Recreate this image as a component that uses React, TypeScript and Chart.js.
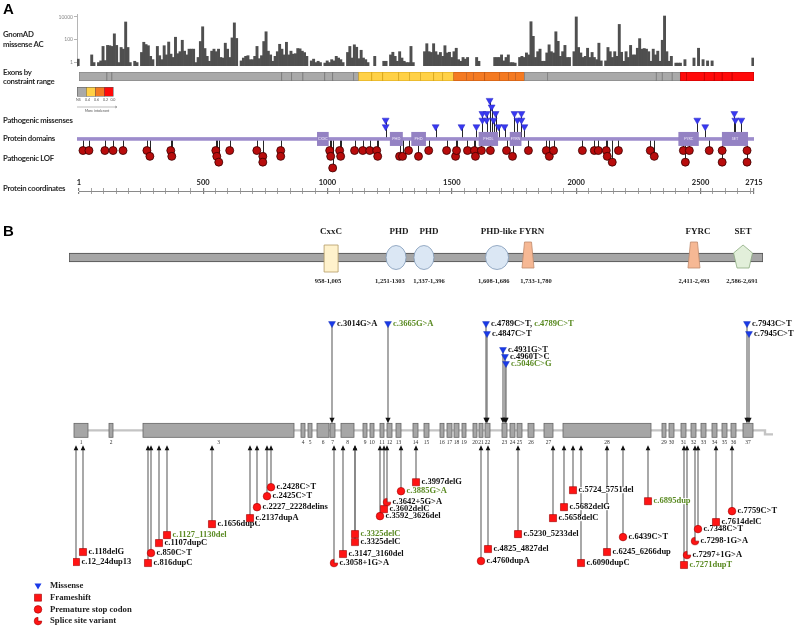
import React, { useEffect, useRef } from "react";
import { Chart, registerables } from "chart.js";

Chart.register(...registerables);
Chart.defaults.font.family = "Lato, 'Liberation Sans', sans-serif";

const SERIF = '"Liberation Serif", "Times New Roman", serif';

// ================= PANEL A =================
// gnomAD missense allele count per ~9 aa bin (0 = no variant)
const GNOMAD_AC: number[] = [
  2, 0, 0, 0, 0, 0, 4.7, 1, 0, 1,
  1.4, 26, 1.5, 32, 30, 26, 330, 32, 1, 21,
  15, 3600, 21, 1, 0, 1.3, 1, 0, 7.7, 60,
  38, 30, 3.5, 1.8, 0, 26, 4, 1.8, 30, 4.7,
  63, 5.5, 2.8, 166, 6, 9, 90, 10, 4.7, 15,
  15, 15, 1, 2.8, 70, 1370, 17, 3.5, 1.3, 10,
  15, 9, 15, 2.8, 2.5, 50, 15, 2.8, 145, 3000,
  130, 0, 1.4, 2.5, 3.5, 4, 1.8, 1.8, 3.5, 26,
  2.2, 4, 70, 500, 10, 4.7, 1.3, 3.5, 9, 40,
  15, 4.7, 60, 4.7, 10, 5.5, 6, 17,
  16, 10, 7.5, 3.5, 0, 1.4, 2, 1, 1.3, 1,
  0, 0.9, 1.4, 1, 1.8, 1.4, 3.5, 2.5, 1.8, 1,
  0, 7.7, 26, 2.5, 36, 22, 2.2, 12, 2.5, 1.8,
  1, 0, 0, 3.5, 0, 0, 0, 1.3, 1.3, 0,
  4.7, 8, 3.5, 1.3, 9, 2.5, 1.3, 1, 1, 26,
  1, 0, 0, 0, 0, 9, 45, 9, 7.7, 45,
  9, 4.7, 7.7, 3.5, 30, 7, 8, 2.8, 9, 18,
  1.8, 1.3, 2.8, 2, 2.8, 0, 0, 0, 2.8, 1.3,
  0, 0, 0, 0, 0, 0, 2.8, 2.8, 2.8, 4.7,
  1.4, 2.8, 4.7, 1, 1, 0.9, 0, 2.8, 3.5, 2.8,
  7, 4.7, 3800, 200,
  2.8, 9, 15, 1.3, 1.3, 7, 36, 9, 7, 500,
  73, 3.5, 9, 32, 2.8, 2.8, 0, 9, 10000, 21,
  7, 2.8, 3.5, 18, 2.8, 7.7, 2.8, 1.8, 50, 1.4,
  0, 1.4, 21, 9, 2.8, 9, 3.5, 2200, 8, 1.3,
  9, 2.8, 32, 4.7, 4.7, 18, 125, 15, 17, 15,
  9, 1.3, 15, 4.7, 10, 1.3, 90, 12000, 9, 1.3,
  3.5, 0, 0.9, 0.9, 0.9, 0, 1.8, 0, 0, 0,
  2.5, 0, 18, 0, 1.8, 0, 1.4, 0, 1.4, 0,
  0, 0, 0, 0, 0, 0, 0, 0, 0, 0,
  0, 0, 0, 0, 0, 0, 2.5,
];
const AC_TICKS = [1, 100, 10000];

// exon boundaries (aa) and constraint class changes
const EXON_BOUNDS_AA = [1, 113, 133, 816, 856, 901, 989, 1021, 1105, 1125, 1178, 1222, 1286, 1330, 1374, 1427, 1463, 1507, 1559, 1587, 1632, 1692, 1728, 1756, 1792, 1885, 2322, 2346, 2386, 2419, 2443, 2515, 2555, 2587, 2627, 2715];
const CONSTRAINT_CUTS = [1, 1125, 1507, 1792, 2419];
const CONSTRAINT_CUT_CLASS = [0, 1, 2, 0, 3];
const CONSTRAINT_FILL = ["#a9a9a9", "#ffd147", "#f47a22", "#ff0a0a"];
const CONSTRAINT_EDGE = ["#7a7a7a", "#d9a618", "#c4560f", "#c00000"];
const CONSTRAINT_LEGEND_LABELS = ["NS", "0.4", "0.6", "0.2", "0.0"];

// pathogenic missense (aa position, stack level)
const MIS_A_POS = [1234, 1234, 1435, 1539, 1599, 1623, 1623, 1640, 1640, 1652, 1660, 1668, 1676, 1688, 1712, 1752, 1764, 1780, 1780, 1792, 2487, 2519, 2636, 2640, 2664];
const MIS_A_LEVEL = [1, 2, 1, 1, 1, 2, 3, 2, 3, 5, 4, 2, 3, 1, 1, 3, 2, 2, 3, 1, 2, 1, 3, 2, 2];

// pathogenic LOF (aa position, stack level)
const LOF_A_POS = [17, 41, 105, 138, 178, 274, 286, 370, 374, 551, 555, 563, 607, 716, 740, 740, 812, 812, 1009, 1013, 1021, 1049, 1053, 1109, 1142, 1170, 1198, 1202, 1290, 1302, 1326, 1366, 1407, 1479, 1515, 1519, 1563, 1591, 1595, 1619, 1655, 1720, 1744, 1808, 1880, 1892, 1909, 2025, 2073, 2089, 2121, 2125, 2145, 2170, 2298, 2314, 2431, 2439, 2455, 2535, 2587, 2587, 2687, 2687];
const LOF_A_LEVEL = [1, 1, 1, 1, 1, 1, 2, 1, 2, 1, 2, 3, 1, 1, 2, 3, 1, 2, 1, 2, 4, 1, 2, 1, 1, 1, 1, 2, 2, 2, 1, 2, 1, 1, 2, 1, 1, 1, 2, 1, 1, 1, 2, 1, 1, 2, 1, 1, 1, 1, 1, 2, 3, 1, 1, 2, 1, 3, 1, 1, 1, 3, 1, 3];

// protein domains
const DOMAIN_NAMES_A = ["CXXC", "PHD", "PHD", "PHDL", "FYRN", "FYRC", "SET"];
const DOMAIN_START = [958, 1251, 1337, 1608, 1733, 2411, 2586];
const DOMAIN_END = [1005, 1303, 1396, 1686, 1780, 2493, 2691];
const PROTEIN_LENGTH = 2715;
const COORD_LABELS = [1, 500, 1000, 1500, 2000, 2500, 2715];
const COORD_MINOR_STEP = 50;

// ================= PANEL B =================
const DOMAIN_NAMES_B = ["CxxC", "PHD", "PHD", "PHD-like", "FYRN", "FYRC", "SET"];
const DOMAIN_RANGE_LABELS = ["958-1,005", "1,251-1303", "1,337-1,396", "1,608-1,686", "1,733-1,780", "2,411-2,493", "2,586-2,691"];
const DOMAIN_SHAPE = ["rect", "ellipse", "ellipse", "ellipse", "trap", "trap", "pentagon"];
// schematic positions (aa scale of the drawn bar) for shapes, names and range captions
const DOMAIN_SCHEMATIC_POS = [1026, 1280, 1389, 1675, 1796, 2445, 2637];
const DOMAIN_NAME_POS = [1026, 1292, 1409, 1682, 1811, 2461, 2637];
const DOMAIN_RANGE_POS = [1014, 1256, 1409, 1662, 1827, 2445, 2633];

// exon layout (schematic units)
const EXON_START = [1, 36, 70, 228, 235, 244, 257, 268, 290, 297, 307, 314, 323, 340, 351, 367, 374, 381, 389, 400, 406, 412, 429, 437, 444, 455, 471, 490, 589, 596, 608, 618, 628, 639, 649, 658, 670];
const EXON_END = [15, 40, 221, 232, 239, 256, 262, 281, 294, 301, 311, 319, 328, 345, 356, 371, 379, 386, 393, 404, 410, 417, 434, 442, 449, 461, 480, 578, 593, 601, 613, 623, 633, 644, 654, 663, 680];
const TRANSCRIPT_END = 700;

// missense variants (schematic x, label row)
const MIS_B_LABEL = ["c.3014G>A", "c.3665G>A", "c.4789C>T, ", "c.4847C>T", "c.4931G>T", "c.4960T>C", "c.5046C>G", "c.7943C>T", "c.7945C>T"];
const MIS_B_LABEL_EXTRA = ["", "", "c.4789C>T", "", "", "", "", "", ""];
const MIS_B_GREEN = [false, true, false, false, false, false, true, false, false];
const MIS_B_X = [259, 315, 413, 414, 430, 432, 433, 674, 676];
const MIS_B_ROW = [10.7, 10.7, 10.7, 9.7, 8.1, 7.4, 6.7, 10.7, 9.7];

// LOF variants: F frameshift, S premature stop, P splice site
const LOF_B_LABEL = ["c.12_24dup13", "c.118delG", "c.816dupC", "c.850C>T", "c.1107dupC", "c.1127_1130del", "c.1656dupC", "c.2137dupA", "c.2227_2228delins", "c.2425C>T", "c.2428C>T", "c.3058+1G>A", "c.3147_3160del", "c.3325delC", "c.3325delC", "c.3592_3626del", "c.3602delC", "c.3642+5G>A", "c.3885G>A", "c.3997delG", "c.4760dupA", "c.4825_4827del", "c.5230_5233del", "c.5658delC", "c.5682delG", "c.5724_5751del", "c.6090dupC", "c.6245_6266dup", "c.6439C>T", "c.6895dup", "c.7271dupT", "c.7297+1G>A", "c.7298-1G>A", "c.7348C>T", "c.7614delC", "c.7759C>T"];
const LOF_B_X = [3, 10, 75, 78, 86, 94, 139, 177, 184, 194, 198, 261, 270, 282, 282, 307, 311, 314, 328, 343, 408, 415, 445, 480, 491, 500, 508, 534, 550, 575, 611, 614, 622, 625, 643, 659];
const LOF_B_ROW = [-13.2, -12.2, -13.3, -12.3, -11.3, -10.5, -9.4, -8.8, -7.7, -6.6, -5.7, -13.3, -12.4, -11.2, -10.4, -8.6, -7.9, -7.2, -6.1, -5.2, -13.1, -11.9, -10.4, -8.8, -7.7, -6.0, -13.3, -12.2, -10.7, -7.1, -13.5, -12.5, -11.1, -9.9, -9.2, -8.1];
const LOF_B_TYPE = ["F", "F", "F", "S", "F", "F", "F", "F", "S", "S", "S", "P", "F", "F", "F", "S", "F", "P", "S", "F", "S", "F", "F", "F", "F", "F", "F", "F", "S", "F", "F", "P", "P", "S", "F", "S"];
const LOF_B_GREEN = [false, false, false, false, false, true, false, false, false, false, false, false, false, false, true, false, false, false, true, false, false, false, false, false, false, false, false, false, false, true, true, false, false, false, false, false];

const LEGEND_B = ["Missense", "Frameshift", "Premature stop codon", "Splice site variant"];
const LEGEND_B_TYPE = ["M", "F", "S", "P"];

const GREEN = "#5a8a22";
const BLUE = "#1a3ae8";
const RED = "#ff1414";
const PURPLE_LINE = "#9d8ccc";
const PURPLE_BOX = "#9482c3";

function makeSplice(r: number): HTMLCanvasElement {
  const c = document.createElement("canvas");
  const s = Math.ceil(r * 2 + 2);
  c.width = s;
  c.height = s;
  const g = c.getContext("2d")!;
  g.fillStyle = RED;
  g.strokeStyle = "#a00000";
  g.lineWidth = 0.6;
  g.beginPath();
  g.moveTo(s / 2, s / 2);
  g.arc(s / 2, s / 2, r, 0, Math.PI * 1.5);
  g.closePath();
  g.fill();
  g.stroke();
  return c;
}

function drawMarker(ctx: CanvasRenderingContext2D, type: string, x: number, y: number) {
  ctx.save();
  ctx.lineWidth = 0.6;
  ctx.beginPath();
  if (type === "M") {
    ctx.fillStyle = BLUE;
    ctx.moveTo(x - 3.5, y - 2.5);
    ctx.lineTo(x + 3.5, y - 2.5);
    ctx.lineTo(x, y + 3.5);
    ctx.closePath();
    ctx.fill();
  } else if (type === "F") {
    ctx.fillStyle = RED;
    ctx.strokeStyle = "#a00000";
    ctx.rect(x - 3.5, y - 3.5, 7, 7);
    ctx.fill();
    ctx.stroke();
  } else if (type === "S") {
    ctx.fillStyle = RED;
    ctx.strokeStyle = "#a00000";
    ctx.arc(x, y, 3.8, 0, Math.PI * 2);
    ctx.fill();
    ctx.stroke();
  } else {
    ctx.fillStyle = RED;
    ctx.strokeStyle = "#a00000";
    ctx.moveTo(x, y);
    ctx.arc(x, y, 3.8, 0, Math.PI * 1.5);
    ctx.closePath();
    ctx.fill();
    ctx.stroke();
  }
  ctx.restore();
}

const baseOpts = {
  responsive: false,
  maintainAspectRatio: false,
  animation: false as const,
  events: [] as any[],
  plugins: { legend: { display: false }, tooltip: { enabled: false } },
};

export default function App() {
  const refBars = useRef<HTMLCanvasElement>(null);
  const refCons = useRef<HTMLCanvasElement>(null);
  const refTrack = useRef<HTMLCanvasElement>(null);
  const refAxis = useRef<HTMLCanvasElement>(null);
  const refDom = useRef<HTMLCanvasElement>(null);
  const refGene = useRef<HTMLCanvasElement>(null);

  useEffect(() => {
    const charts: Chart[] = [];

    // ---- gnomAD bars ----
    charts.push(
      new Chart(refBars.current!, {
        type: "bar",
        data: {
          labels: GNOMAD_AC.map((_, i) => String(i)),
          datasets: [
            {
              data: GNOMAD_AC.map((v) => (v > 0 ? v : null)) as any,
              backgroundColor: "#4f4f4f",
              barPercentage: 1,
              categoryPercentage: 1,
              borderWidth: 0,
            },
          ],
        },
        options: {
          ...baseOpts,
          layout: { padding: { left: 55, right: 46, top: 14, bottom: 4 } },
          scales: {
            x: { display: false },
            y: {
              type: "logarithmic",
              min: 0.5,
              max: 18000,
              afterBuildTicks: (s: any) => {
                s.ticks = AC_TICKS.map((v) => ({ value: v }));
              },
              afterFit: (s: any) => {
                s.width = 22;
              },
              grid: { drawOnChartArea: false, tickLength: 3, color: "#b5b5b5" },
              border: { color: "#b5b5b5" },
              ticks: { font: { size: 5 }, color: "#888", padding: 1, callback: (v: any) => String(v) },
            },
          },
        } as any,
      })
    );

    // ---- exon constraint bar ----
    const segs = EXON_BOUNDS_AA.slice(0, -1).map((s, i) => {
      let k = 0;
      CONSTRAINT_CUTS.forEach((c, j) => {
        if (s >= c) k = j;
      });
      return { start: s, end: EXON_BOUNDS_AA[i + 1], cls: CONSTRAINT_CUT_CLASS[k] };
    });
    charts.push(
      new Chart(refCons.current!, {
        type: "bar",
        data: {
          labels: ["c"],
          datasets: [
            {
              data: segs.map((s) => ({ y: "c", x: [s.start, s.end] })) as any,
              backgroundColor: segs.map((s) => CONSTRAINT_FILL[s.cls]),
              borderColor: segs.map((s) => CONSTRAINT_EDGE[s.cls]),
              borderWidth: 0.8,
              borderSkipped: false,
              barPercentage: 1,
              categoryPercentage: 1,
            },
          ],
        },
        options: {
          ...baseOpts,
          indexAxis: "y",
          layout: { padding: { left: 79, right: 46, top: 4, bottom: 35 } },
          scales: {
            x: { type: "linear", min: 1, max: PROTEIN_LENGTH, display: false },
            y: { display: false },
          },
        } as any,
        plugins: [
          {
            id: "consLegend",
            afterDraw(chart: any) {
              const { ctx, chartArea } = chart;
              const x0 = chartArea.left - 2;
              const top = chartArea.bottom + 6;
              ctx.save();
              CONSTRAINT_FILL.forEach((c, i) => {
                ctx.fillStyle = c;
                ctx.fillRect(x0 + i * 9, top, 9, 9);
                ctx.strokeStyle = "#555";
                ctx.lineWidth = 0.5;
                ctx.strokeRect(x0 + i * 9 + 0.25, top + 0.25, 9, 9);
              });
              ctx.fillStyle = "#555";
              ctx.font = "3.6px Lato";
              ctx.textBaseline = "middle";
              ctx.textAlign = "left";
              CONSTRAINT_LEGEND_LABELS.forEach((t, i) => {
                ctx.fillText(t, x0 - 1 + i * (i === 4 ? 8.6 : 9), top + 13);
              });
              ctx.strokeStyle = "#777";
              ctx.lineWidth = 0.5;
              ctx.beginPath();
              ctx.moveTo(x0, top + 20);
              ctx.lineTo(x0 + 40, top + 20);
              ctx.lineTo(x0 + 38, top + 19);
              ctx.moveTo(x0 + 40, top + 20);
              ctx.lineTo(x0 + 38, top + 21);
              ctx.stroke();
              ctx.textAlign = "center";
              ctx.fillText("More intolerant", x0 + 20, top + 23.5);
              ctx.restore();
            },
          },
        ],
      })
    );

    // ---- lollipop tracks ----
    charts.push(
      new Chart(refTrack.current!, {
        type: "scatter",
        data: {
          datasets: [
            {
              data: MIS_A_POS.map((p, i) => ({ x: p, y: MIS_A_LEVEL[i] + 0.85 })),
              pointStyle: "triangle",
              rotation: 180,
              radius: 4,
              backgroundColor: "#3838f2",
              borderColor: "#2828c0",
              borderWidth: 0.5,
              clip: false,
            },
            {
              data: LOF_A_POS.map((p, i) => ({ x: p, y: -0.88 * (LOF_A_LEVEL[i] + 1) })),
              pointStyle: "circle",
              radius: 4,
              backgroundColor: "#b80c0c",
              borderColor: "#3a0000",
              borderWidth: 0.8,
              clip: false,
            },
          ],
        },
        options: {
          ...baseOpts,
          layout: { padding: { left: 79, right: 46, top: 2.4, bottom: 4.6 } },
          scales: {
            x: { type: "linear", min: 1, max: PROTEIN_LENGTH, display: false },
            y: { type: "linear", min: -5.5, max: 7, display: false },
          },
        } as any,
        plugins: [
          {
            id: "tracks",
            beforeDatasetsDraw(chart: any) {
              const { ctx, scales } = chart;
              const x = scales.x;
              const y = scales.y;
              const y0 = y.getPixelForValue(0);
              ctx.save();
              ctx.strokeStyle = "#262626";
              ctx.lineWidth = 1;
              chart.data.datasets.forEach((ds: any) =>
                ds.data.forEach((pt: any) => {
                  const px = Math.round(x.getPixelForValue(pt.x)) + 0.5;
                  ctx.beginPath();
                  ctx.moveTo(px, y0);
                  ctx.lineTo(px, y.getPixelForValue(pt.y));
                  ctx.stroke();
                })
              );
              const xa = x.getPixelForValue(1);
              const xb = x.getPixelForValue(PROTEIN_LENGTH);
              ctx.fillStyle = PURPLE_LINE;
              ctx.fillRect(xa - 2, y0 - 1.8, xb - xa + 2, 3.6);
              ctx.font = "3.8px Lato";
              ctx.textAlign = "center";
              ctx.textBaseline = "middle";
              DOMAIN_START.forEach((s, i) => {
                const x1 = x.getPixelForValue(s);
                const x2 = x.getPixelForValue(DOMAIN_END[i]);
                ctx.fillStyle = PURPLE_BOX;
                ctx.fillRect(x1, y0 - 7, x2 - x1, 14);
                ctx.fillStyle = "#ece6f7";
                ctx.fillText(DOMAIN_NAMES_A[i], (x1 + x2) / 2, y0);
              });
              ctx.restore();
            },
          },
        ],
      })
    );

    // ---- protein coordinate axis ----
    const coordTicks: number[] = [1];
    for (let v = COORD_MINOR_STEP; v < PROTEIN_LENGTH; v += COORD_MINOR_STEP) coordTicks.push(v);
    coordTicks.push(PROTEIN_LENGTH);
    charts.push(
      new Chart(refAxis.current!, {
        type: "scatter",
        data: { datasets: [{ data: [] }] },
        options: {
          ...baseOpts,
          layout: { padding: { left: 79, right: 46, top: 0, bottom: 6 } },
          scales: {
            x: {
              type: "linear",
              position: "top",
              min: 1,
              max: PROTEIN_LENGTH,
              afterBuildTicks: (s: any) => {
                s.ticks = coordTicks.map((v) => ({ value: v }));
              },
              afterFit: (s: any) => {
                s.height = 21;
              },
              ticks: {
                autoSkip: false,
                maxRotation: 0,
                padding: 1,
                color: "#222",
                font: { size: 7.5, weight: "bold" },
                callback: (v: any) => (COORD_LABELS.includes(v) ? String(v) : ""),
              },
              grid: {
                color: "#7d7d7d",
                lineWidth: (c: any) => (COORD_LABELS.includes(c.tick && c.tick.value) ? 1.2 : 0.7),
                tickLength: 3,
                drawOnChartArea: true,
              },
              border: { display: true, color: "#8a8a8a", width: 1 },
            },
            y: { display: false, min: 0, max: 1 },
          },
        } as any,
      })
    );

    // ---- panel B protein schematic ----
    charts.push(
      new Chart(refDom.current!, {
        type: "bar",
        data: {
          labels: ["p"],
          datasets: [
            {
              data: [{ y: "p", x: [1, PROTEIN_LENGTH] }] as any,
              backgroundColor: "#a6a6a6",
              borderColor: "#4d4d4d",
              borderWidth: 1,
              borderSkipped: false,
              barThickness: 9,
            },
          ],
        },
        options: {
          ...baseOpts,
          indexAxis: "y",
          layout: { padding: { left: 69, right: 37, top: 5, bottom: 4 } },
          scales: {
            x: { type: "linear", min: 1, max: PROTEIN_LENGTH, display: false },
            y: { display: false },
          },
        } as any,
        plugins: [
          {
            id: "domains",
            afterDatasetsDraw(chart: any) {
              const { ctx, chartArea, scales } = chart;
              const x = scales.x;
              const cy = (chartArea.top + chartArea.bottom) / 2;
              ctx.save();
              DOMAIN_SCHEMATIC_POS.forEach((p, i) => {
                const cx = x.getPixelForValue(p);
                const kind = DOMAIN_SHAPE[i];
                ctx.lineWidth = 0.8;
                ctx.beginPath();
                if (kind === "rect") {
                  ctx.rect(cx - 7, cy - 12.5, 14, 27);
                  ctx.fillStyle = "#fff2cc";
                  ctx.strokeStyle = "#b39a66";
                } else if (kind === "ellipse") {
                  const rx = DOMAIN_NAMES_B[i] === "PHD-like" ? 11.5 : 10;
                  ctx.ellipse(cx, cy, rx, 12, 0, 0, Math.PI * 2);
                  ctx.fillStyle = "#dbe7f4";
                  ctx.strokeStyle = "#7f98b6";
                } else if (kind === "trap") {
                  ctx.moveTo(cx - 3.5, cy - 15.5);
                  ctx.lineTo(cx + 3.5, cy - 15.5);
                  ctx.lineTo(cx + 6, cy + 10.5);
                  ctx.lineTo(cx - 6, cy + 10.5);
                  ctx.closePath();
                  ctx.fillStyle = "#f6b894";
                  ctx.strokeStyle = "#bf8a6c";
                } else {
                  ctx.moveTo(cx, cy - 12.5);
                  ctx.lineTo(cx + 9.5, cy - 4.5);
                  ctx.lineTo(cx + 6, cy + 10.5);
                  ctx.lineTo(cx - 6, cy + 10.5);
                  ctx.lineTo(cx - 9.5, cy - 4.5);
                  ctx.closePath();
                  ctx.fillStyle = "#e2efda";
                  ctx.strokeStyle = "#8aa97f";
                }
                ctx.fill();
                ctx.stroke();
                ctx.fillStyle = "#1e1e1e";
                ctx.textAlign = "center";
                ctx.textBaseline = "middle";
                ctx.font = `bold 9px ${SERIF}`;
                ctx.fillText(DOMAIN_NAMES_B[i], x.getPixelForValue(DOMAIN_NAME_POS[i]), cy - 25.5);
                ctx.font = `bold 6.5px ${SERIF}`;
                ctx.fillText(DOMAIN_RANGE_LABELS[i], x.getPixelForValue(DOMAIN_RANGE_POS[i]), cy + 23.5);
              });
              ctx.restore();
            },
          },
        ],
      })
    );

    // ---- panel B exon map with variants ----
    const lofOf = (t: string) =>
      LOF_B_X.map((x, i) => ({ x, y: LOF_B_ROW[i], t: LOF_B_TYPE[i] }))
        .filter((d) => d.t === t)
        .map((d) => ({ x: d.x, y: d.y }));
    charts.push(
      new Chart(refGene.current!, {
        type: "scatter",
        data: {
          datasets: [
            {
              data: MIS_B_X.map((x, i) => ({ x, y: MIS_B_ROW[i] })),
              pointStyle: "triangle",
              rotation: 180,
              radius: 4,
              backgroundColor: BLUE,
              borderColor: "#0c28b0",
              borderWidth: 0.4,
            },
            {
              data: lofOf("F"),
              pointStyle: "rect",
              radius: 5,
              backgroundColor: RED,
              borderColor: "#a00000",
              borderWidth: 0.6,
            },
            {
              data: lofOf("S"),
              pointStyle: "circle",
              radius: 3.8,
              backgroundColor: RED,
              borderColor: "#a00000",
              borderWidth: 0.6,
            },
            {
              data: lofOf("P"),
              pointStyle: makeSplice(3.8),
              radius: 4,
              backgroundColor: RED,
              borderWidth: 0,
            },
          ],
        },
        options: {
          ...baseOpts,
          layout: { padding: { left: 73, right: 27, top: 5, bottom: 55 } },
          scales: {
            x: { type: "linear", min: 0, max: TRANSCRIPT_END, display: false },
            y: { type: "linear", min: -14.5, max: 11.5, display: false },
          },
        } as any,
        plugins: [
          {
            id: "gene",
            beforeDatasetsDraw(chart: any) {
              const { ctx, scales } = chart;
              const x = scales.x;
              const y = scales.y;
              const y0 = y.getPixelForValue(0);
              ctx.save();
              // intron backbone + 3' end hook
              ctx.strokeStyle = "#c4c4c4";
              ctx.lineWidth = 2.4;
              ctx.beginPath();
              ctx.moveTo(x.getPixelForValue(EXON_START[0]), y0);
              ctx.lineTo(x.getPixelForValue(TRANSCRIPT_END - 8), y0);
              ctx.lineTo(x.getPixelForValue(TRANSCRIPT_END - 8), y0 + 4);
              ctx.lineTo(x.getPixelForValue(TRANSCRIPT_END), y0 + 4);
              ctx.stroke();
              // exons
              const yt = y.getPixelForValue(0.7);
              const yb = y.getPixelForValue(-0.7);
              ctx.font = `5.5px ${SERIF}`;
              ctx.textAlign = "center";
              ctx.textBaseline = "middle";
              EXON_START.forEach((s, i) => {
                const x1 = x.getPixelForValue(s);
                const x2 = x.getPixelForValue(EXON_END[i]);
                ctx.fillStyle = "#a6a6a6";
                ctx.fillRect(x1, yt, x2 - x1, yb - yt);
                ctx.strokeStyle = "#666";
                ctx.lineWidth = 0.8;
                ctx.strokeRect(x1, yt, x2 - x1, yb - yt);
                ctx.fillStyle = "#333";
                ctx.fillText(String(i + 1), (x1 + x2) / 2, y.getPixelForValue(-1.2));
              });
              // variant connectors
              ctx.strokeStyle = "#7a7a7a";
              ctx.lineWidth = 1.3;
              ctx.fillStyle = "#111";
              MIS_B_X.forEach((mx, i) => {
                const px = x.getPixelForValue(mx);
                const tip = y.getPixelForValue(0.7);
                ctx.beginPath();
                ctx.moveTo(px, y.getPixelForValue(MIS_B_ROW[i]));
                ctx.lineTo(px, tip - 3);
                ctx.stroke();
                ctx.beginPath();
                ctx.moveTo(px - 2.6, tip - 5.5);
                ctx.lineTo(px + 2.6, tip - 5.5);
                ctx.lineTo(px, tip);
                ctx.closePath();
                ctx.fill();
              });
              LOF_B_X.forEach((lx, i) => {
                const px = x.getPixelForValue(lx);
                const tip = y.getPixelForValue(-1.5);
                ctx.beginPath();
                ctx.moveTo(px, tip + 3);
                ctx.lineTo(px, y.getPixelForValue(LOF_B_ROW[i]));
                ctx.stroke();
                ctx.beginPath();
                ctx.moveTo(px - 2.3, tip + 5);
                ctx.lineTo(px + 2.3, tip + 5);
                ctx.lineTo(px, tip);
                ctx.closePath();
                ctx.fill();
              });
              // labels (white backing hides connectors behind text)
              ctx.font = `bold 8.5px ${SERIF}`;
              ctx.textAlign = "left";
              ctx.textBaseline = "middle";
              const label = (parts: [string, string][], lx: number, ly: number) => {
                let w = 0;
                parts.forEach((p) => (w += ctx.measureText(p[0]).width));
                ctx.fillStyle = "#fff";
                ctx.fillRect(lx - 0.5, ly - 3, w + 1, 6);
                let cx = lx;
                parts.forEach((p) => {
                  ctx.fillStyle = p[1];
                  ctx.fillText(p[0], cx, ly);
                  cx += ctx.measureText(p[0]).width;
                });
              };
              MIS_B_X.forEach((mx, i) => {
                const parts: [string, string][] = [[MIS_B_LABEL[i], MIS_B_GREEN[i] ? GREEN : "#111"]];
                if (MIS_B_LABEL_EXTRA[i]) parts.push([MIS_B_LABEL_EXTRA[i], GREEN]);
                label(parts, x.getPixelForValue(mx) + 5, y.getPixelForValue(MIS_B_ROW[i]));
              });
              LOF_B_X.forEach((lx, i) => {
                label([[LOF_B_LABEL[i], LOF_B_GREEN[i] ? GREEN : "#111"]], x.getPixelForValue(lx) + 5.5, y.getPixelForValue(LOF_B_ROW[i]));
              });
              ctx.restore();
            },
            afterDraw(chart: any) {
              const { ctx, chartArea } = chart;
              ctx.save();
              const lx = 38;
              const top = chartArea.bottom + 11;
              ctx.font = `bold 8.7px ${SERIF}`;
              ctx.textAlign = "left";
              ctx.textBaseline = "middle";
              LEGEND_B.forEach((t, i) => {
                const ly = top + i * 11.7;
                drawMarker(ctx, LEGEND_B_TYPE[i], lx, ly);
                ctx.fillStyle = "#222";
                ctx.fillText(t, lx + 12, ly);
              });
              ctx.restore();
            },
          },
        ],
      })
    );

    return () => charts.forEach((c) => c.destroy());
  }, []);

  const sideLabel = (text: string, cy: number) => (
    <div
      key={text}
      style={{
        position: "absolute",
        left: 3,
        top: cy - 5,
        height: 10,
        lineHeight: "10px",
        fontFamily: "Lato, 'Liberation Sans', sans-serif",
        fontWeight: 700,
        fontSize: 7.8,
        letterSpacing: -0.3,
        color: "#2b2b2b",
        whiteSpace: "nowrap",
      }}
    >
      {text}
    </div>
  );

  const cv = (ref: any, top: number, h: number) => (
    <canvas ref={ref} width={800} height={h} style={{ position: "absolute", left: 0, top, width: 800, height: h }} />
  );

  return (
    <div style={{ position: "absolute", left: 0, top: 0, width: 800, height: 630, background: "#fff", overflow: "hidden" }}>
      {cv(refBars, 0, 70)}
      {cv(refCons, 68, 48)}
      {cv(refTrack, 88, 92)}
      {cv(refAxis, 170, 30)}
      {cv(refDom, 222, 70)}
      {cv(refGene, 310, 320)}
      <div style={{ position: "absolute", left: 3, top: 0, fontFamily: "'Liberation Sans', Arial, sans-serif", fontWeight: 700, fontSize: 15, lineHeight: "17px" }}>A</div>
      <div style={{ position: "absolute", left: 3, top: 222, fontFamily: "'Liberation Sans', Arial, sans-serif", fontWeight: 700, fontSize: 15, lineHeight: "17px" }}>B</div>
      {sideLabel("GnomAD", 34)}
      {sideLabel("missense AC", 44)}
      {sideLabel("Exons by", 72)}
      {sideLabel("constraint range", 81)}
      {sideLabel("Pathogenic missenses", 120)}
      {sideLabel("Protein domains", 138)}
      {sideLabel("Pathogenic LOF", 158)}
      {sideLabel("Protein coordinates", 188)}
    </div>
  );
}
